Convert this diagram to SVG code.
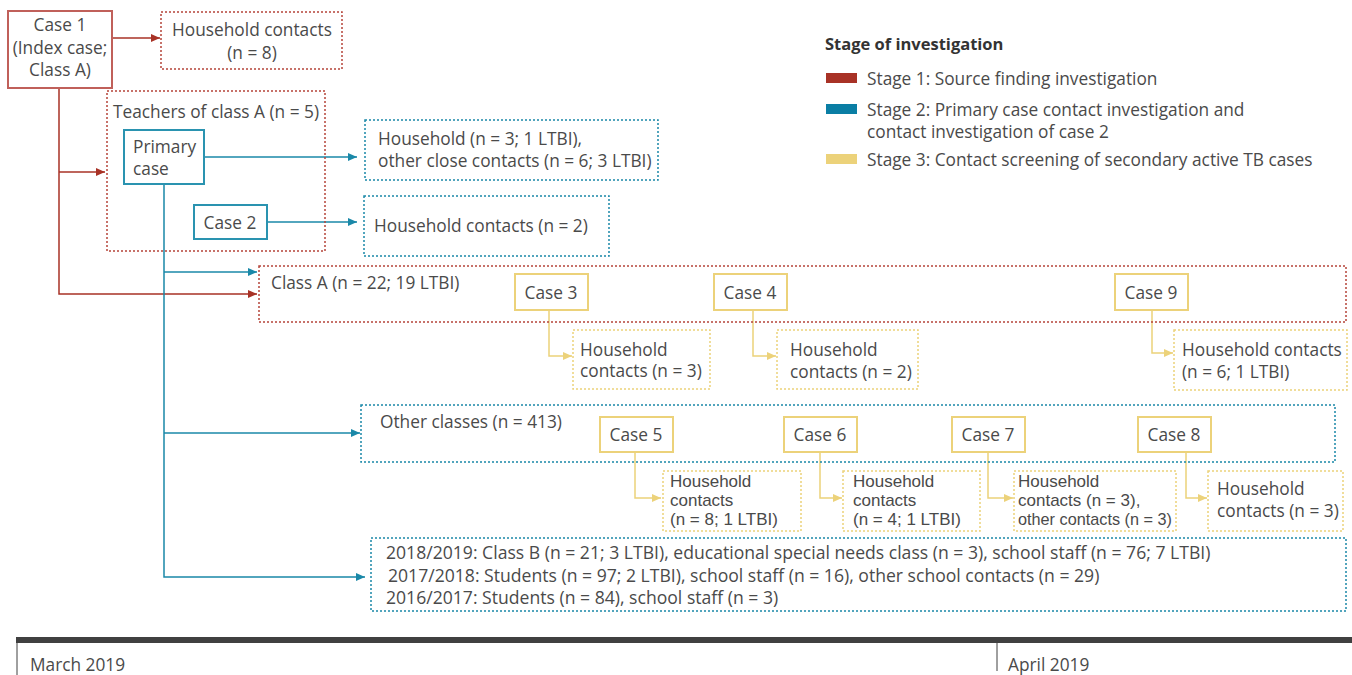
<svg xmlns="http://www.w3.org/2000/svg" width="1352" height="675" viewBox="0 0 1352 675">
<style>
text{font-family:"Open Sans","Liberation Sans",sans-serif;font-size:17.3px;fill:#4a4a4a}
.c{text-anchor:middle}
.b{font-weight:bold;fill:#333;font-size:16.5px}
.t{font-family:"Liberation Sans",Arial,sans-serif;font-size:17px}
.y{font-size:17.6px}
.solidR{fill:#fff;stroke:#c0605a;stroke-width:2}
.solidB{fill:#fff;stroke:#2a93b0;stroke-width:2}
.solidY{fill:#fff;stroke:#ecd27a;stroke-width:2}
.dotR{fill:none;stroke:#b5443a;stroke-width:1.5;stroke-dasharray:2 2}
.dotB{fill:none;stroke:#1a88a8;stroke-width:1.5;stroke-dasharray:2 2}
.dotY{fill:none;stroke:#ecd27a;stroke-width:1.5;stroke-dasharray:2 2}
.lR{fill:none;stroke:#a83226;stroke-width:1.5}
.lB{fill:none;stroke:#1a88a8;stroke-width:1.5}
.lY{fill:none;stroke:#ecd27a;stroke-width:1.5}
</style>
<defs>
<marker id="aR" markerUnits="userSpaceOnUse" markerWidth="9" markerHeight="8" refX="9" refY="4" orient="auto"><path d="M0,0 L9,4 L0,8 z" fill="#a83226"/></marker>
<marker id="aB" markerUnits="userSpaceOnUse" markerWidth="9" markerHeight="8" refX="9" refY="4" orient="auto"><path d="M0,0 L9,4 L0,8 z" fill="#1a88a8"/></marker>
<marker id="aY" markerUnits="userSpaceOnUse" markerWidth="9" markerHeight="8" refX="9" refY="4" orient="auto"><path d="M0,0 L9,4 L0,8 z" fill="#ecd27a"/></marker>
</defs>

<g id="connectors">
<path class="lR" d="M112,38 H160" marker-end="url(#aR)"/>
<path class="lR" d="M59,88 V294 H257" marker-end="url(#aR)"/>
<path class="lR" d="M59,172 H105" marker-end="url(#aR)"/>
<path class="lB" d="M204,157 H357" marker-end="url(#aB)"/>
<path class="lB" d="M267,222 H357" marker-end="url(#aB)"/>
<path class="lB" d="M164,184 V577 H365" marker-end="url(#aB)"/>
<path class="lB" d="M164,272 H257" marker-end="url(#aB)"/>
<path class="lB" d="M164,433 H360" marker-end="url(#aB)"/>
<path class="lY" d="M549,310 V356 H572" marker-end="url(#aY)"/>
<path class="lY" d="M753,310 V356 H776" marker-end="url(#aY)"/>
<path class="lY" d="M1152,310 V353 H1173" marker-end="url(#aY)"/>
<path class="lY" d="M635,453 V498 H661" marker-end="url(#aY)"/>
<path class="lY" d="M820,453 V498 H842" marker-end="url(#aY)"/>
<path class="lY" d="M988,453 V498 H1013" marker-end="url(#aY)"/>
<path class="lY" d="M1186,453 V498 H1207" marker-end="url(#aY)"/>
</g>

<g id="teachers"><rect class="dotR" x="107" y="91" width="218" height="160"/><text x="113" y="118">Teachers of class A (n = 5)</text></g>
<g id="classA"><rect class="dotR" x="259" y="266" width="1087" height="56"/><text x="271" y="289">Class A (n = 22; 19 LTBI)</text></g>
<g id="otherClasses"><rect class="dotB" x="361" y="405" width="974" height="57"/><text x="380" y="428">Other classes (n = 413)</text></g>

<g id="case1"><rect class="solidR" x="8" y="11" width="104" height="77"/><text class="c" x="60" y="31">Case 1</text><text class="c" x="60" y="54">(Index case;</text><text class="c" x="60" y="76">Class A)</text></g>
<g id="hh1"><rect class="dotR" x="161" y="12" width="181" height="57"/><text class="c" x="252" y="36">Household contacts</text><text class="c" x="252" y="59">(n = 8)</text></g>

<g id="primary"><rect class="solidB" x="124" y="130" width="80" height="54"/><text x="133" y="153">Primary</text><text x="133" y="175">case</text></g>
<g id="case2"><rect class="solidB" x="194" y="205" width="73" height="34"/><text class="c" x="230" y="229">Case 2</text></g>
<g id="hhPrimary"><rect class="dotB" x="365" y="120" width="293" height="60"/><text x="378" y="145">Household (n = 3; 1 LTBI),</text><text x="378" y="167">other close contacts (n = 6; 3 LTBI)</text></g>
<g id="hhCase2"><rect class="dotB" x="364" y="196" width="245" height="60"/><text x="374" y="232">Household contacts (n = 2)</text></g>

<g id="case3"><rect class="solidY" x="515" y="274" width="73" height="36"/><text class="c" x="551" y="299">Case 3</text></g>
<g id="hh3"><rect class="dotY" x="573" y="330" width="137" height="59"/><text x="580" y="356">Household</text><text x="580" y="377">contacts (n = 3)</text></g>
<g id="case4"><rect class="solidY" x="714" y="274" width="73" height="36"/><text class="c" x="750" y="299">Case 4</text></g>
<g id="hh4"><rect class="dotY" x="777" y="330" width="141" height="59"/><text x="790" y="356">Household</text><text x="790" y="378">contacts (n = 2)</text></g>
<g id="case9"><rect class="solidY" x="1115" y="274" width="73" height="36"/><text class="c" x="1151" y="299">Case 9</text></g>
<g id="hh9"><rect class="dotY" x="1174" y="330" width="173" height="60"/><text x="1182" y="356">Household contacts</text><text x="1182" y="378">(n = 6; 1 LTBI)</text></g>

<g id="case5"><rect class="solidY" x="600" y="417" width="73" height="35"/><text class="c" x="636" y="441">Case 5</text></g>
<g id="hh5"><rect class="dotY" x="663" y="471" width="138" height="60"/><text class="t" x="670" y="487">Household</text><text class="t" x="670" y="506">contacts</text><text class="t" x="670" y="525">(n = 8; 1 LTBI)</text></g>
<g id="case6"><rect class="solidY" x="784" y="417" width="73" height="35"/><text class="c" x="820" y="441">Case 6</text></g>
<g id="hh6"><rect class="dotY" x="843" y="471" width="137" height="60"/><text class="t" x="853" y="487">Household</text><text class="t" x="853" y="506">contacts</text><text class="t" x="853" y="525">(n = 4; 1 LTBI)</text></g>
<g id="case7"><rect class="solidY" x="952" y="417" width="73" height="35"/><text class="c" x="988" y="441">Case 7</text></g>
<g id="hh7"><rect class="dotY" x="1014" y="471" width="162" height="60"/><text class="t" x="1018" y="487">Household</text><text class="t" x="1018" y="506">contacts (n = 3),</text><text class="t" x="1018" y="525" textLength="154" lengthAdjust="spacingAndGlyphs">other contacts (n = 3)</text></g>
<g id="case8"><rect class="solidY" x="1138" y="417" width="73" height="35"/><text class="c" x="1174" y="441">Case 8</text></g>
<g id="hh8"><rect class="dotY" x="1208" y="471" width="135" height="60"/><text x="1217" y="495">Household</text><text x="1217" y="517">contacts (n = 3)</text></g>

<g id="years"><rect class="dotB" x="371" y="538" width="975" height="73"/>
<text class="y" x="386" y="559">2018/2019: Class B (n = 21; 3 LTBI), educational special needs class (n = 3), school staff (n = 76; 7 LTBI)</text>
<text class="y" x="388" y="582">2017/2018: Students (n = 97; 2 LTBI), school staff (n = 16), other school contacts (n = 29)</text>
<text class="y" x="386" y="604">2016/2017: Students (n = 84), school staff (n = 3)</text></g>

<g id="legend">
<text class="b" x="825" y="50">Stage of investigation</text>
<rect x="826" y="73" width="31" height="10" fill="#a83226"/><text x="867" y="85">Stage 1: Source finding investigation</text>
<rect x="826" y="104" width="31" height="10" fill="#0a7ea4"/><text x="867" y="116">Stage 2: Primary case contact investigation and</text><text x="867" y="138">contact investigation of case 2</text>
<rect x="826" y="154" width="31" height="10" fill="#ecd27a"/><text x="867" y="166">Stage 3: Contact screening of secondary active TB cases</text>
</g>

<g id="timeline">
<rect x="16" y="637" width="1336" height="6" fill="#404040"/>
<line x1="17" y1="643" x2="17" y2="675" stroke="#404040" stroke-width="1"/>
<line x1="997" y1="643" x2="997" y2="671" stroke="#404040" stroke-width="1"/>
<text x="30" y="671">March 2019</text>
<text x="1008" y="671">April 2019</text>
</g>
</svg>
